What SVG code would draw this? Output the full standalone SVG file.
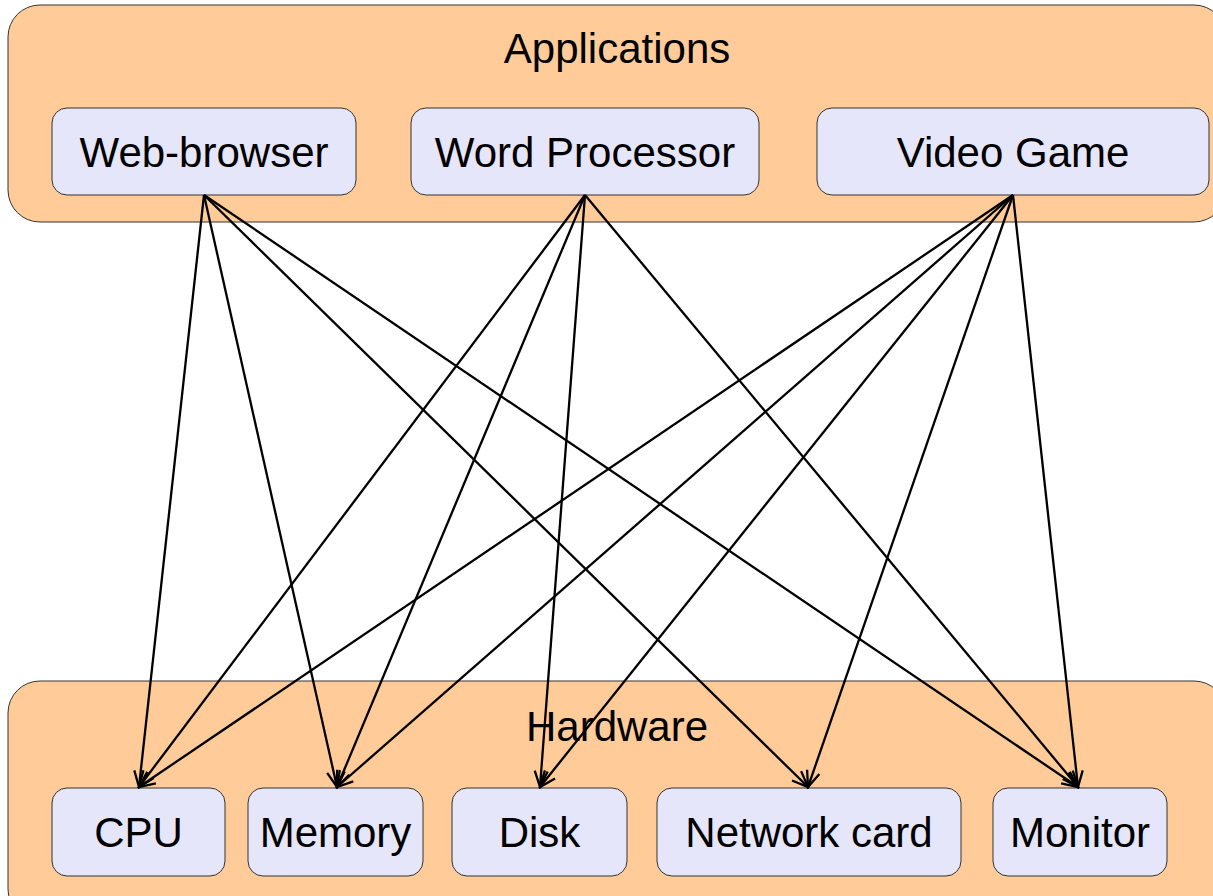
<svg xmlns="http://www.w3.org/2000/svg" width="1213" height="896" viewBox="0 0 1213 896">
<style>
.grp{fill:#FFCC99;stroke:#333;stroke-width:1}
.node{fill:#E6E6FA;stroke:#333;stroke-width:1}
text{font-family:"Liberation Sans",Arial,sans-serif;font-size:42px;fill:#000;text-anchor:middle}
.edge{stroke:#000;stroke-width:2.3;fill:none;marker-end:url(#arr)}
</style>
<defs>
<marker id="arr" markerUnits="userSpaceOnUse" viewBox="-20 -10 22 20" refX="0" refY="0" markerWidth="22" markerHeight="20" orient="auto">
<path d="M-16,-6.5 L0,0 L-16,6.5" fill="none" stroke="#000" stroke-width="2.3"/>
</marker>
</defs>
<rect width="1213" height="896" fill="#fff"/>
<g id="applications">
<rect class="grp" x="8" y="5" width="1218" height="217" rx="32" ry="32"/>
<text x="617" y="63">Applications</text>
</g>
<g id="hardware">
<rect class="grp" x="8" y="681" width="1218" height="240" rx="32" ry="32"/>
<text x="617" y="741">Hardware</text>
</g>
<g id="web-browser"><rect class="node" x="52" y="108" width="304" height="87" rx="15"/><text x="204" y="167">Web-browser</text></g>
<g id="word-processor"><rect class="node" x="411" y="108" width="348" height="87" rx="15"/><text x="585" y="167">Word Processor</text></g>
<g id="video-game"><rect class="node" x="817" y="108" width="392" height="87" rx="15"/><text x="1013" y="167">Video Game</text></g>
<g id="cpu"><rect class="node" x="52" y="788" width="173" height="88" rx="15"/><text x="138.5" y="847">CPU</text></g>
<g id="memory"><rect class="node" x="248" y="788" width="175" height="88" rx="15"/><text x="335.5" y="847">Memory</text></g>
<g id="disk"><rect class="node" x="452" y="788" width="175" height="88" rx="15"/><text x="539.5" y="847">Disk</text></g>
<g id="network-card"><rect class="node" x="657" y="788" width="304" height="88" rx="15"/><text x="809" y="847">Network card</text></g>
<g id="monitor"><rect class="node" x="993" y="788" width="174" height="88" rx="15"/><text x="1080" y="847">Monitor</text></g>
<g id="connectors">
<line class="edge" x1="204" y1="195" x2="139" y2="787"/>
<line class="edge" x1="204" y1="195" x2="337" y2="787"/>
<line class="edge" x1="204" y1="195" x2="808" y2="787"/>
<line class="edge" x1="204" y1="195" x2="1078" y2="787"/>
<line class="edge" x1="585" y1="195" x2="139" y2="787"/>
<line class="edge" x1="585" y1="195" x2="337" y2="787"/>
<line class="edge" x1="585" y1="195" x2="540" y2="787"/>
<line class="edge" x1="585" y1="195" x2="1078" y2="787"/>
<line class="edge" x1="1013" y1="195" x2="139" y2="787"/>
<line class="edge" x1="1013" y1="195" x2="337" y2="787"/>
<line class="edge" x1="1013" y1="195" x2="540" y2="787"/>
<line class="edge" x1="1013" y1="195" x2="808" y2="787"/>
<line class="edge" x1="1013" y1="195" x2="1078" y2="787"/>
</g>
</svg>
